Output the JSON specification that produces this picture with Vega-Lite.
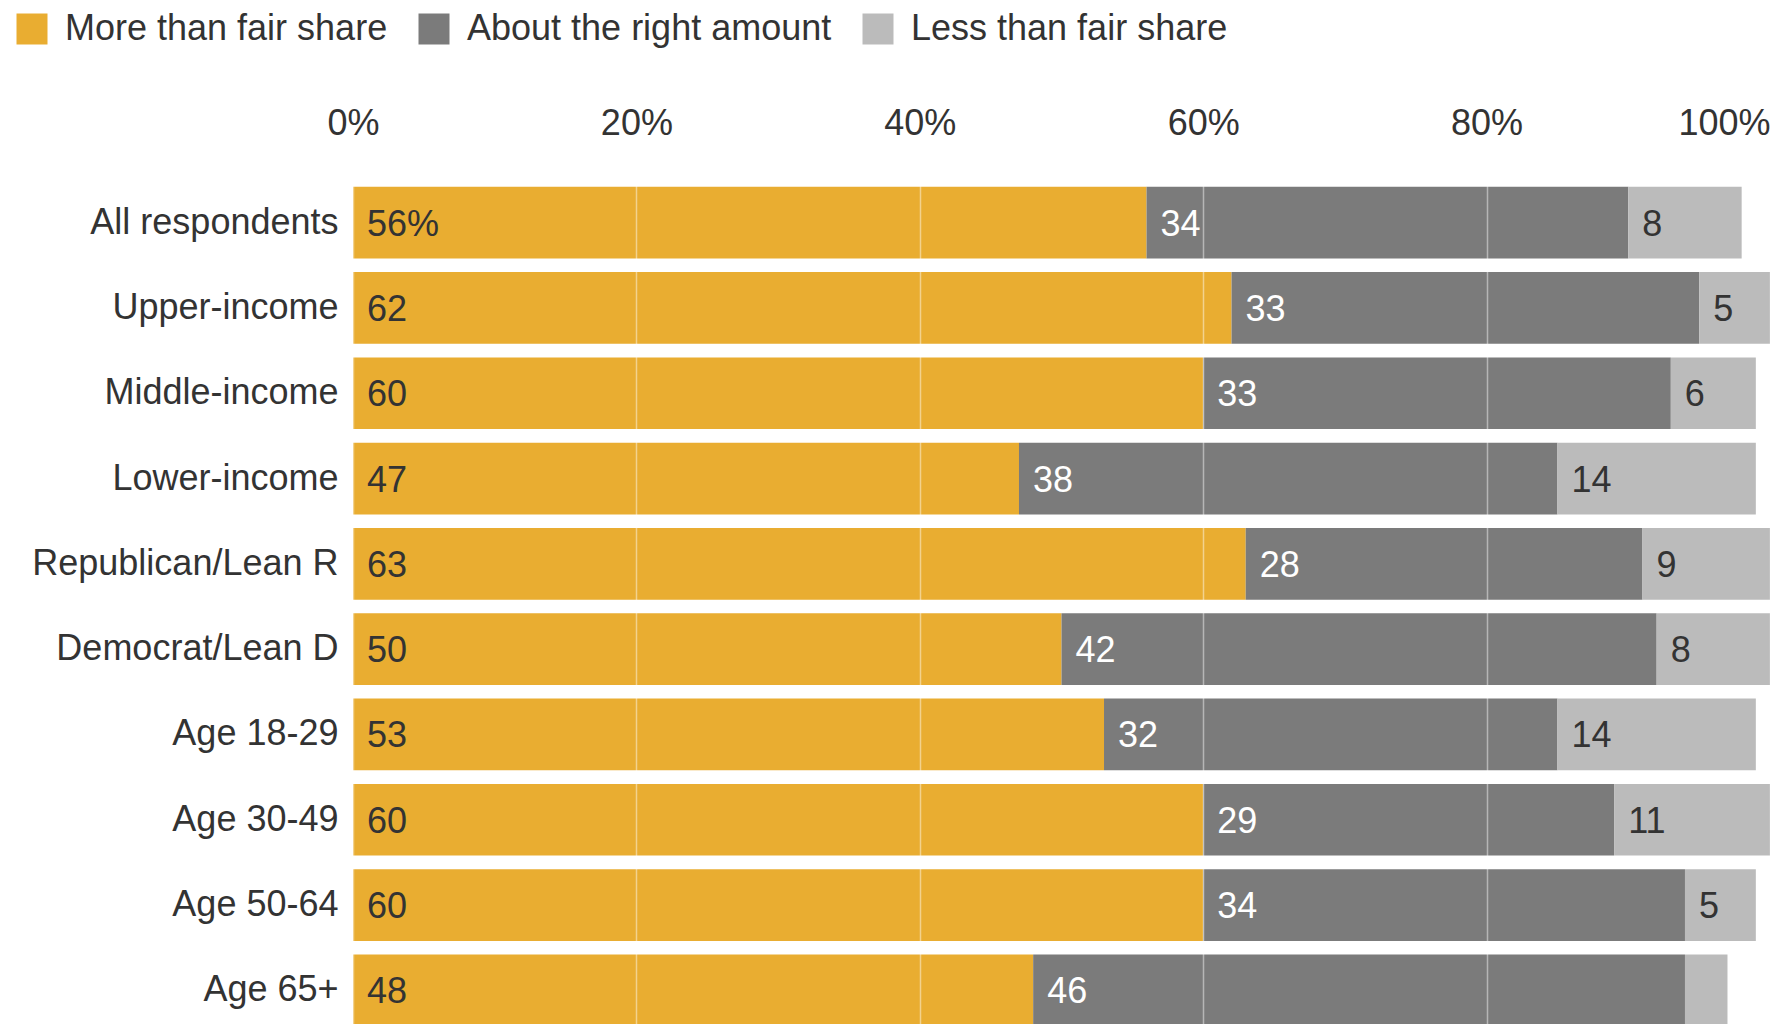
{
  "$schema": "https://vega.github.io/schema/vega-lite/v6.json",
  "width": 1417,
  "height": 853,
  "autosize": {"type": "none"},
  "padding": {"left": 353, "top": 180, "right": 8, "bottom": 0},
  "background": "#ffffff",
  "config": {
    "font": "Liberation Sans",
    "view": {"stroke": null}
  },
  "data": {
    "values": [
      {"group": "All respondents", "cat": "More than fair share", "ord": 1, "value": 56, "label": "56%"},
      {"group": "All respondents", "cat": "About the right amount", "ord": 2, "value": 34, "label": "34"},
      {"group": "All respondents", "cat": "Less than fair share", "ord": 3, "value": 8, "label": "8"},
      {"group": "Upper-income", "cat": "More than fair share", "ord": 1, "value": 62, "label": "62"},
      {"group": "Upper-income", "cat": "About the right amount", "ord": 2, "value": 33, "label": "33"},
      {"group": "Upper-income", "cat": "Less than fair share", "ord": 3, "value": 5, "label": "5"},
      {"group": "Middle-income", "cat": "More than fair share", "ord": 1, "value": 60, "label": "60"},
      {"group": "Middle-income", "cat": "About the right amount", "ord": 2, "value": 33, "label": "33"},
      {"group": "Middle-income", "cat": "Less than fair share", "ord": 3, "value": 6, "label": "6"},
      {"group": "Lower-income", "cat": "More than fair share", "ord": 1, "value": 47, "label": "47"},
      {"group": "Lower-income", "cat": "About the right amount", "ord": 2, "value": 38, "label": "38"},
      {"group": "Lower-income", "cat": "Less than fair share", "ord": 3, "value": 14, "label": "14"},
      {"group": "Republican/Lean R", "cat": "More than fair share", "ord": 1, "value": 63, "label": "63"},
      {"group": "Republican/Lean R", "cat": "About the right amount", "ord": 2, "value": 28, "label": "28"},
      {"group": "Republican/Lean R", "cat": "Less than fair share", "ord": 3, "value": 9, "label": "9"},
      {"group": "Democrat/Lean D", "cat": "More than fair share", "ord": 1, "value": 50, "label": "50"},
      {"group": "Democrat/Lean D", "cat": "About the right amount", "ord": 2, "value": 42, "label": "42"},
      {"group": "Democrat/Lean D", "cat": "Less than fair share", "ord": 3, "value": 8, "label": "8"},
      {"group": "Age 18-29", "cat": "More than fair share", "ord": 1, "value": 53, "label": "53"},
      {"group": "Age 18-29", "cat": "About the right amount", "ord": 2, "value": 32, "label": "32"},
      {"group": "Age 18-29", "cat": "Less than fair share", "ord": 3, "value": 14, "label": "14"},
      {"group": "Age 30-49", "cat": "More than fair share", "ord": 1, "value": 60, "label": "60"},
      {"group": "Age 30-49", "cat": "About the right amount", "ord": 2, "value": 29, "label": "29"},
      {"group": "Age 30-49", "cat": "Less than fair share", "ord": 3, "value": 11, "label": "11"},
      {"group": "Age 50-64", "cat": "More than fair share", "ord": 1, "value": 60, "label": "60"},
      {"group": "Age 50-64", "cat": "About the right amount", "ord": 2, "value": 34, "label": "34"},
      {"group": "Age 50-64", "cat": "Less than fair share", "ord": 3, "value": 5, "label": "5"},
      {"group": "Age 65+", "cat": "More than fair share", "ord": 1, "value": 48, "label": "48"},
      {"group": "Age 65+", "cat": "About the right amount", "ord": 2, "value": 46, "label": "46"},
      {"group": "Age 65+", "cat": "Less than fair share", "ord": 3, "value": 3, "label": ""}
    ]
  },
  "transform": [
    {"stack": "value", "groupby": ["group"], "sort": [{"field": "ord", "order": "ascending"}], "as": ["x0", "x1"]}
  ],
  "encoding": {
    "y": {
      "field": "group",
      "type": "nominal",
      "sort": ["All respondents", "Upper-income", "Middle-income", "Lower-income", "Republican/Lean R", "Democrat/Lean D", "Age 18-29", "Age 30-49", "Age 50-64", "Age 65+"],
      "scale": {"paddingInner": 0.16, "paddingOuter": 0.08},
      "axis": {
        "title": null,
        "domain": false,
        "ticks": false,
        "labelPadding": 15,
        "labelFontSize": 36,
        "labelColor": "#333333",
        "labelLimit": 400
      }
    }
  },
  "layer": [
    {
      "mark": {"type": "bar"},
      "encoding": {
        "x": {
          "field": "x0",
          "type": "quantitative",
          "scale": {"domain": [0, 100]},
          "axis": {
            "orient": "top",
            "title": null,
            "values": [0, 20, 40, 60, 80, 100],
            "labelExpr": "datum.value + '%'",
            "domain": false,
            "ticks": false,
            "grid": true,
            "gridColor": "#ffffff",
            "gridOpacity": 0.45,
            "gridWidth": 1.5,
            "zindex": 1,
            "labelFontSize": 36,
            "labelColor": "#333333",
            "labelPadding": 38,
            "labelFlush": false,
            "labelAlign": {"condition": {"test": "datum.value == 100", "value": "right"}, "value": "center"}
          }
        },
        "x2": {"field": "x1"},
        "color": {
          "field": "cat",
          "type": "nominal",
          "scale": {
            "domain": ["More than fair share", "About the right amount", "Less than fair share"],
            "range": ["#E9AD31", "#7B7B7B", "#BBBBBB"]
          },
          "legend": {
            "orient": "none",
            "legendX": -339,
            "legendY": -169,
            "direction": "horizontal",
            "title": null,
            "symbolType": "square",
            "symbolSize": 961,
            "symbolStrokeWidth": 0,
            "symbolOpacity": 1,
            "labelFontSize": 36,
            "labelColor": "#333333",
            "labelOffset": 15,
            "columnPadding": 28,
            "labelLimit": 500
          }
        }
      }
    },
    {
      "mark": {"type": "text", "align": "left", "baseline": "middle", "dx": 14, "dy": 2, "fontSize": 36},
      "encoding": {
        "x": {"field": "x0", "type": "quantitative"},
        "text": {"field": "label"},
        "color": {
          "condition": {"test": "datum.cat == 'About the right amount'", "value": "#ffffff"},
          "value": "#333333"
        }
      }
    }
  ]
}
